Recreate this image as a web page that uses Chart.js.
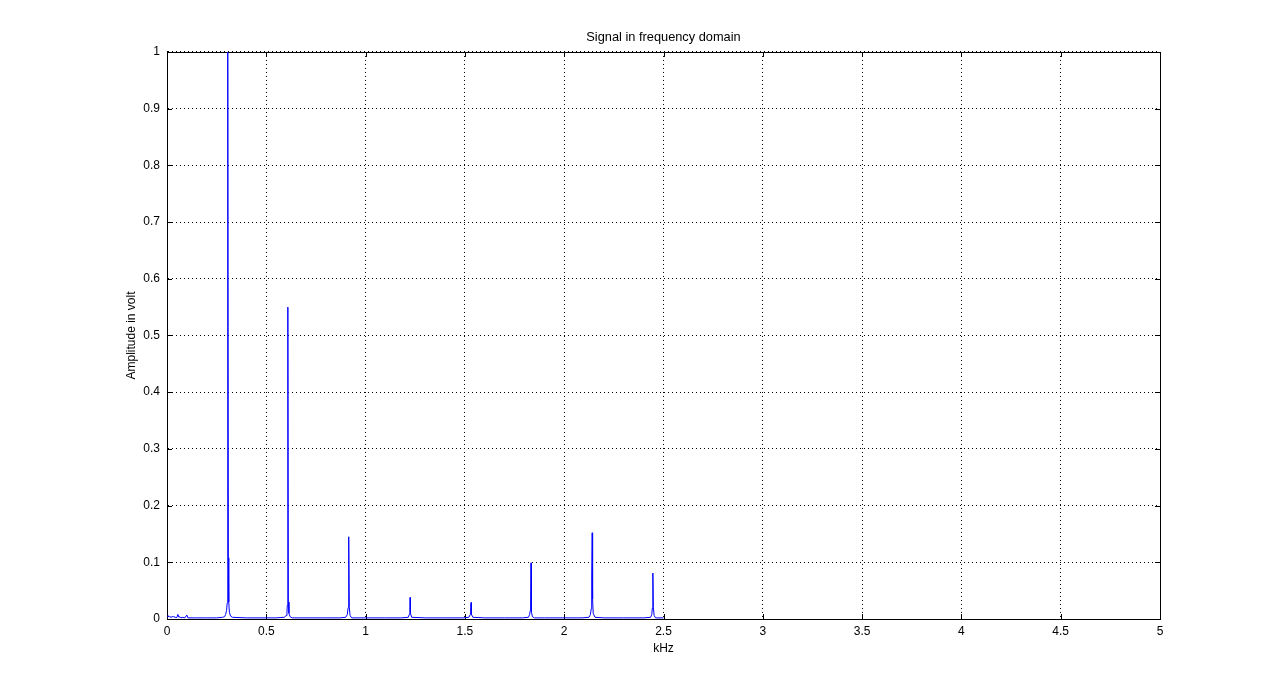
<!DOCTYPE html>
<html>
<head>
<meta charset="utf-8">
<script src="https://cdn.jsdelivr.net/npm/chart.js@4/dist/chart.umd.min.js"></script>
<style>
html,body{margin:0;padding:0;background:#fff;}
canvas{display:block;}
</style>
</head>
<body>
<canvas id="c" width="1281" height="696"></canvas>
<script>
// Frequency bins (kHz) and amplitudes (volt)
const freqKHz = [
  0, 0.005, 0.01, 0.015, 0.02, 0.025, 0.03, 0.035, 0.04, 0.045, 0.05, 0.055, 0.06, 0.065, 0.07, 0.08, 0.09, 0.1, 0.105, 0.15, 0.2, 0.25, 0.28,
  0.29, 0.295, 0.3, 0.303, 0.305, 0.307, 0.309, 0.311, 0.314, 0.32, 0.33, 0.4, 0.5, 0.55,
  0.59, 0.6, 0.604, 0.606, 0.608, 0.609, 0.611, 0.614, 0.62, 0.63, 0.7, 0.8, 0.87,
  0.9, 0.908, 0.912, 0.914, 0.916, 0.918, 0.922, 0.93, 1.0, 1.1, 1.18,
  1.215, 1.22, 1.223, 1.224, 1.226, 1.232, 1.3, 1.4, 1.49,
  1.52, 1.527, 1.529, 1.531, 1.533, 1.54, 1.6, 1.7, 1.79,
  1.82, 1.826, 1.829, 1.831, 1.833, 1.835, 1.84, 1.85, 1.9, 2.0, 2.09,
  2.125, 2.132, 2.136, 2.138, 2.139, 2.141, 2.143, 2.146, 2.155, 2.2, 2.3, 2.4,
  2.435, 2.441, 2.444, 2.446, 2.447, 2.449, 2.453, 2.46, 2.5
];
const amplitude = [
  0.006, 0.004, 0.005, 0.003, 0.004, 0.003, 0.005, 0.003, 0.004, 0.002, 0.003, 0.008, 0.003, 0.004, 0.002, 0.003, 0.002, 0.007, 0.002, 0.002, 0.002, 0.002, 0.003,
  0.004, 0.008, 0.015, 0.028, 0.06, 1.0, 0.108, 0.03, 0.012, 0.005, 0.003, 0.002, 0.002, 0.002,
  0.003, 0.006, 0.012, 0.025, 0.047, 0.55, 0.03, 0.01, 0.004, 0.002, 0.002, 0.002, 0.002,
  0.003, 0.008, 0.02, 0.1, 0.145, 0.02, 0.006, 0.002, 0.002, 0.002, 0.002,
  0.003, 0.008, 0.02, 0.038, 0.01, 0.003, 0.002, 0.002, 0.002,
  0.003, 0.008, 0.02, 0.029, 0.008, 0.003, 0.002, 0.002, 0.002,
  0.003, 0.008, 0.015, 0.028, 0.099, 0.012, 0.004, 0.002, 0.002, 0.002, 0.002,
  0.003, 0.008, 0.018, 0.035, 0.074, 0.152, 0.035, 0.01, 0.003, 0.002, 0.002, 0.002,
  0.003, 0.008, 0.02, 0.035, 0.081, 0.02, 0.006, 0.002, 0.002
];
const xTickValues = [0, 0.5, 1, 1.5, 2, 2.5, 3, 3.5, 4, 4.5, 5];
const xTickLabels = ['0', '0.5', '1', '1.5', '2', '2.5', '3', '3.5', '4', '4.5', '5'];
const yTickValues = [0, 0.1, 0.2, 0.3, 0.4, 0.5, 0.6, 0.7, 0.8, 0.9, 1];
const yTickLabels = ['0', '0.1', '0.2', '0.3', '0.4', '0.5', '0.6', '0.7', '0.8', '0.9', '1'];

const points = freqKHz.map((f, i) => ({x: f, y: amplitude[i]}));
const FONT = 'Liberation Sans, Arial, Helvetica, sans-serif';

const boxPlugin = {
  id: 'matlabBox',
  beforeDatasetsDraw(chart) {
    const {ctx, chartArea: a, scales} = chart;
    ctx.save();
    ctx.strokeStyle = '#000';
    ctx.lineWidth = 1;
    ctx.setLineDash([]);
    ctx.strokeRect(Math.round(a.left) + 0.5, Math.round(a.top) + 0.5,
                   Math.round(a.right - a.left), Math.round(a.bottom - a.top));
    ctx.beginPath();
    const tl = 5;
    scales.y.ticks.forEach(t => {
      const y = Math.round(scales.y.getPixelForValue(t.value)) + 0.5;
      ctx.moveTo(a.left, y); ctx.lineTo(a.left + tl, y);
      ctx.moveTo(a.right, y); ctx.lineTo(a.right - tl, y);
    });
    scales.x.ticks.forEach(t => {
      const x = Math.round(scales.x.getPixelForValue(t.value)) + 0.5;
      ctx.moveTo(x, a.bottom); ctx.lineTo(x, a.bottom - tl);
      ctx.moveTo(x, a.top); ctx.lineTo(x, a.top + tl);
    });
    ctx.stroke();
    ctx.restore();
  }
};

new Chart(document.getElementById('c'), {
  type: 'line',
  data: {
    datasets: [{
      data: points,
      borderColor: '#0000ff',
      borderWidth: 1,
      pointRadius: 0,
      tension: 0,
      fill: false
    }]
  },
  options: {
    responsive: false,
    devicePixelRatio: 1,
    animation: false,
    layout: {padding: {left: 119, right: 121, top: 24, bottom: 39.8}},
    plugins: {
      legend: {display: false},
      tooltip: {enabled: false},
      title: {
        display: true,
        fullSize: false,
        text: 'Signal in frequency domain',
        color: '#000',
        font: {family: FONT, size: 12.8, weight: 'normal'},
        padding: {top: 6, bottom: 6.6}
      }
    },
    scales: {
      x: {
        type: 'linear',
        min: 0, max: 5,
        afterBuildTicks(s) { s.ticks = xTickValues.map(v => ({value: v})); },
        afterFit(s) { s.height = 37.2; },
        ticks: {
          color: '#000',
          font: {family: FONT, size: 12},
          padding: 5.5,
          maxRotation: 0,
          autoSkip: false,
          callback: (v, i) => xTickLabels[i]
        },
        grid: {color: '#000', lineWidth: 1, drawTicks: false},
        border: {display: true, color: '#000', dash: [1, 3]},
        title: {
          display: true, text: 'kHz', color: '#000',
          font: {family: FONT, size: 12}, padding: {top: 0, bottom: 0}
        }
      },
      y: {
        type: 'linear',
        min: 0, max: 1,
        afterBuildTicks(s) { s.ticks = yTickValues.map(v => ({value: v})); },
        afterFit(s) { s.width = 48; },
        ticks: {
          color: '#000',
          font: {family: FONT, size: 12},
          padding: 7,
          autoSkip: false,
          callback: (v, i) => yTickLabels[i]
        },
        grid: {color: '#000', lineWidth: 1, drawTicks: false},
        border: {display: true, color: '#000', dash: [1, 3]},
        title: {
          display: true, text: 'Amplitude in volt', color: '#000',
          font: {family: FONT, size: 12}, padding: {top: 5, bottom: 0}
        }
      }
    }
  },
  plugins: [boxPlugin]
});
</script>
</body>
</html>
